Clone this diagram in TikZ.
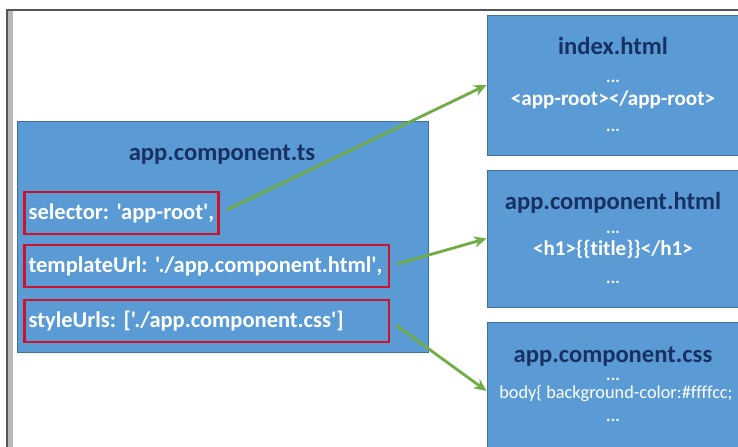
\documentclass[tikz,border=0pt]{standalone}
\usepackage{fontspec}
\setmainfont{Carlito}[Ligatures={TeXOff,NoCommon}]
\usetikzlibrary{arrows.meta, positioning, calc}
\definecolor{boxblue}{RGB}{91,155,213}
\definecolor{boxedge}{RGB}{65,113,156}
\definecolor{titlenavy}{RGB}{24,48,98}
\definecolor{markred}{RGB}{206,18,42}
\definecolor{linkgreen}{RGB}{112,173,71}
\definecolor{framegray}{RGB}{85,85,85}
\frenchspacing

\begin{document}
\begin{tikzpicture}[x=0.025cm, y=-0.025cm,
    file/.style={rectangle, draw=boxedge, fill=boxblue, line width=0.6pt, inner sep=0pt},
    ftitle/.style={text=titlenavy, font=\fontsize{17.5}{20}\selectfont\bfseries, inner sep=0pt},
    code/.style={text=white, font=\fontsize{15}{18}\selectfont\bfseries, inner sep=0pt},
    dots/.style={text=white, font=\fontsize{12}{14}\selectfont\bfseries, inner sep=0pt},
    field/.style={rectangle, draw=markred, line width=2pt, anchor=west, inner xsep=3pt, minimum height=1.05cm, align=left, text=white, font=\fontsize{16}{19}\selectfont\bfseries},
    link/.style={-{Stealth[length=9pt, width=8pt]}, line width=2pt, color=linkgreen, shorten <=5pt}
]
\useasboundingbox (0,0) rectangle (738,447);
\clip (0,0) rectangle (738,447);
\fill[white] (0,0) rectangle (738,447);
\fill[gray!55] (7,10) rectangle (13,447);
\draw[framegray, line width=1.4pt] (7,447) -- (7,10) -- (738,10);

\node[file, minimum width=10.275cm, minimum height=5.775cm] (ts) at (222.5,236.5) {};
\node[ftitle] (tstitle) at (222,155) {app.component.ts};
\node[field, text width=4.65cm] (sel) at (23,213) {selector: 'app-root',};
\node[field, text width=8.9cm] (tpl) at (23,266) {templateUrl: './app.component.html',};
\node[field, text width=8.9cm] (sty) at (23,321) {styleUrls: ['./app.component.css']};

\node[file, minimum width=6.3cm, minimum height=3.5cm] (idx) at (613,85) {};
\node[ftitle] (idxtitle) at (613,46) {index.html};
\node[dots] (idxtop) at (613,81) {...};
\node[code] (idxroot) at (613,100) {<app-root></app-root>};
\node[dots] (idxend) at (613,130) {...};

\node[file, minimum width=6.3cm, minimum height=3.425cm] (html) at (613,238.5) {};
\node[ftitle] (htmltitle) at (613,203) {app.component.html};
\node[dots] (htmltop) at (613,232) {...};
\node[code] (htmlh) at (613,249) {<h1>\{\{title\}\}</h1>};
\node[dots] (htmlend) at (613,282) {...};

\node[file, minimum width=6.3cm, minimum height=3.45cm] (css) at (613,391) {};
\node[ftitle] (csstitle) at (613,357) {app.component.css};
\node[dots] (csstop) at (613,379) {...};
\node[text=white, font=\fontsize{13}{15}\selectfont, inner sep=0pt] (cssbody) at (616,393) {body\{ background-color:\#ffffcc;};
\node[dots] (cssend) at (613,420) {...};

\draw[link] (sel.east) -- (idx.west);
\draw[link] (tpl.east) -- (html.west);
\draw[link] (sty.east) -- (css.west);
\end{tikzpicture}
\end{document}
